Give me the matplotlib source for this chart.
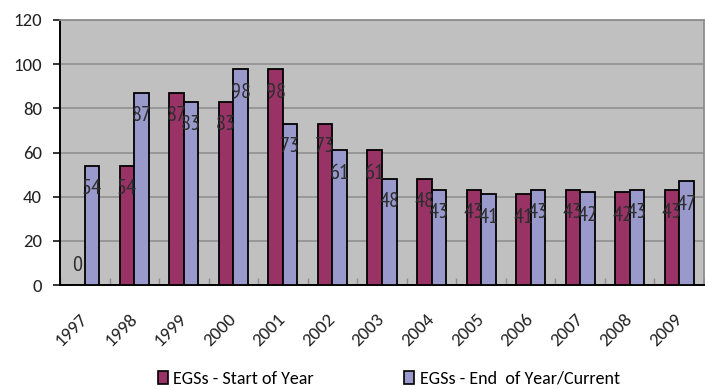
import numpy as np
import matplotlib
matplotlib.use("Agg")
import matplotlib.pyplot as plt
from matplotlib.patches import Patch

years = ["1997", "1998", "1999", "2000", "2001", "2002", "2003",
         "2004", "2005", "2006", "2007", "2008", "2009"]
start_of_year = [0, 54, 87, 83, 98, 73, 61, 48, 43, 41, 43, 42, 43]
end_of_year = [54, 87, 83, 98, 73, 61, 48, 43, 41, 43, 42, 43, 47]
series_names = ["EGSs - Start of Year", "EGSs - End  of Year/Current"]
y_ticks = [0, 20, 40, 60, 80, 100, 120]

RED = "#993366"
BLUE = "#9999CC"
GRID = "#8C8C8C"

W, H = 705, 389
fig = plt.figure(figsize=(W / 100, H / 100), dpi=100)
ax = fig.add_axes([60 / W, 1 - 285 / H, 644 / W, 265 / H])
ax.set_facecolor("#C0C0C0")

x = np.arange(len(years))
bw = 0.293
b1 = ax.bar(x - bw / 2, start_of_year, bw, color=RED, edgecolor="black",
            linewidth=1.3, zorder=3)
b2 = ax.bar(x + bw / 2, end_of_year, bw, color=BLUE, edgecolor="black",
            linewidth=1.3, zorder=3)

# data labels sit just inside the top of each bar
lab_font = dict(family=["PT Sans Narrow", "DejaVu Sans"], size=16,
                color="#2e2e2e")
for bars, vals in [(b1, start_of_year), (b2, end_of_year)]:
    for r, v in zip(bars, vals):
        off = 14 if v == 0 else -16.5
        ax.annotate(str(v), (r.get_x() + r.get_width() / 2, v),
                    xytext=(0, off), textcoords="offset points",
                    ha="center", va="center", zorder=5, **lab_font)

ax.set_xlim(-0.5, len(years) - 0.5)
ax.set_ylim(0, 120)
ax.set_yticks(y_ticks)
ax.yaxis.grid(True, color=GRID, linewidth=1.1, zorder=1)
ax.set_axisbelow(True)

tick_font = dict(family=["Carlito", "DejaVu Sans"], size=13.5,
                 color="#222222")
ax.set_yticklabels([str(t) for t in y_ticks], **tick_font)
ax.tick_params(axis="y", direction="out", length=5, width=1.1, pad=8)

ax.set_xticks(x)
ax.set_xticklabels(years, rotation=45, ha="right", va="center",
                   rotation_mode="anchor", **tick_font)
ax.tick_params(axis="x", which="major", length=0, pad=23)
ax.set_xticks(np.arange(-0.5, len(years)), minor=True)
ax.tick_params(axis="x", which="minor", direction="in", length=5,
               width=1.0, color=GRID)

for side in ["left", "bottom"]:
    ax.spines[side].set_color("black")
    ax.spines[side].set_linewidth(1.4)
for side in ["top", "right"]:
    ax.spines[side].set_color(GRID)
    ax.spines[side].set_linewidth(1.3)

handles = [Patch(facecolor=RED, edgecolor="black", linewidth=1.2),
           Patch(facecolor=BLUE, edgecolor="black", linewidth=1.2)]
fig.legend(handles, series_names, loc="center", ncol=2,
           bbox_to_anchor=(389 / W, 1 - 379 / H), frameon=False,
           prop={"family": ["Carlito", "DejaVu Sans"], "size": 13},
           handlelength=0.55, handleheight=0.7, handletextpad=0.3,
           columnspacing=5.0, borderpad=0)

fig.savefig("out.png", dpi=100)
